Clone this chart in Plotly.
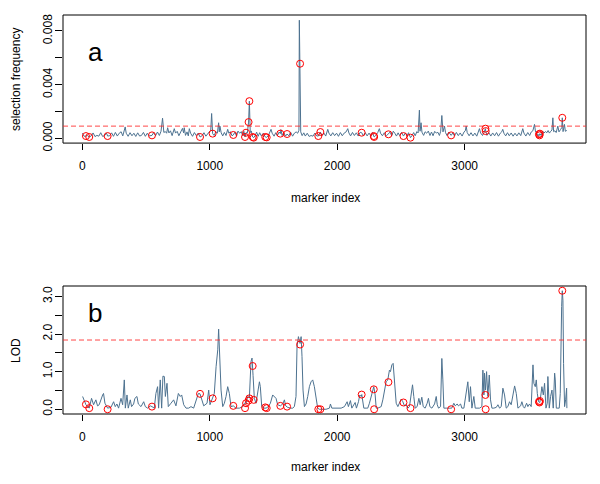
import plotly.graph_objects as go

# ---------------- data ----------------
# panel a: selection frequency (values in units of 1e-4) at marker indices
freq_idx = [1, 15, 29, 40, 55, 70, 85, 100, 115, 130, 145, 160, 175, 190, 199, 215, 230, 245, 260, 275,
            290, 305, 318, 330, 337, 345, 360, 375, 390, 405, 420, 435, 450, 465, 480, 495, 510, 525, 547, 560,
            575, 590, 605, 618, 630, 640, 652, 662, 670, 680, 692, 705, 715, 722, 732, 745, 758, 770, 786, 795,
            800, 810, 822, 832, 840, 850, 865, 880, 895, 910, 924, 940, 955, 970, 985, 1000, 1008, 1015, 1023, 1035,
            1048, 1060, 1070, 1075, 1080, 1090, 1102, 1115, 1128, 1141, 1150, 1162, 1175, 1185, 1198, 1210, 1222, 1235, 1248, 1258,
            1268, 1277, 1285, 1295, 1305, 1311, 1318, 1326, 1337, 1345, 1355, 1368, 1380, 1392, 1405, 1420, 1436, 1447, 1460, 1470,
            1481, 1490, 1505, 1518, 1530, 1545, 1554, 1559, 1568, 1580, 1595, 1607, 1620, 1635, 1650, 1665, 1678, 1690, 1700, 1703,
            1709, 1714, 1725, 1738, 1750, 1765, 1780, 1795, 1810, 1825, 1840, 1852, 1868, 1880, 1895, 1910, 1926, 1935, 1950, 1965,
            1980, 1995, 2010, 2025, 2040, 2055, 2070, 2083, 2092, 2105, 2120, 2135, 2150, 2165, 2180, 2192, 2205, 2220, 2235, 2250,
            2265, 2277, 2287, 2290, 2303, 2318, 2331, 2340, 2355, 2370, 2385, 2402, 2415, 2428, 2440, 2452, 2465, 2478, 2490, 2505,
            2520, 2535, 2548, 2560, 2575, 2588, 2600, 2612, 2625, 2635, 2645, 2650, 2658, 2665, 2678, 2690, 2702, 2715, 2728, 2740,
            2752, 2765, 2778, 2790, 2802, 2812, 2821, 2830, 2842, 2850, 2862, 2875, 2894, 2908, 2920, 2935, 2950, 2965, 2980, 2995,
            3005, 3012, 3020, 3035, 3050, 3065, 3080, 3095, 3108, 3116, 3125, 3140, 3152, 3163, 3165, 3175, 3190, 3205, 3220, 3235,
            3250, 3265, 3280, 3292, 3299, 3308, 3322, 3336, 3350, 3365, 3380, 3395, 3410, 3425, 3440, 3456, 3465, 3480, 3495, 3510,
            3522, 3535, 3548, 3556, 3566, 3575, 3583, 3587, 3590, 3600, 3612, 3622, 3635, 3645, 3655, 3665, 3675, 3685, 3692, 3698,
            3708, 3718, 3731, 3740, 3752, 3762, 3766, 3772, 3783, 3790, 3796, 3800]
freq_e4 = [3.8, 1.5, 1.7, 2.1, 1.0, 1.8, 4.0, 1.3, 2.2, 1.6, 4.2, 1.4, 2.0, 3.9, 1.7, 1.9, 4.1, 1.5, 4.4, 1.7,
           3.8, 4.9, 1.8, 5.5, 8.5, 3.8, 1.5, 4.2, 1.9, 3.8, 1.4, 4.1, 1.7, 2.2, 4.4, 1.5, 3.8, 1.8, 2.2, 4.2,
           1.9, 4.7, 2.1, 5.3, 15.0, 4.4, 5.0, 3.8, 7.9, 4.0, 5.6, 2.0, 5.2, 7.2, 3.9, 5.2, 1.9, 4.6, 7.4, 4.1,
           7.9, 2.2, 4.8, 1.8, 7.2, 3.8, 1.5, 4.3, 2.0, 3.9, 1.0, 1.9, 4.2, 1.6, 3.8, 5.3, 6.0, 18.5, 3.5, 2.1,
           5.0, 3.8, 11.6, 4.8, 9.1, 4.1, 1.8, 4.4, 2.1, 6.7, 3.8, 4.9, 1.9, 2.5, 4.6, 1.7, 5.4, 3.8, 5.0, 2.0,
           5.2, 1.0, 4.2, 3.9, 12.1, 27.7, 4.3, 5.5, 1.0, 0.5, 1.9, 4.6, 1.5, 4.2, 1.8, 3.8, 1.0, 0.7, 2.1, 4.4,
           6.7, 3.8, 1.6, 4.2, 1.9, 4.7, 3.5, 6.5, 2.1, 4.3, 1.7, 3.2, 1.9, 4.5, 1.6, 3.9, 4.8, 3.8, 6.0, 88.0,
           55.6, 4.8, 2.0, 4.1, 1.7, 3.8, 1.4, 2.1, 1.6, 3.9, 1.8, 1.7, 4.7, 1.9, 4.0, 1.7, 6.7, 3.9, 1.8, 4.2,
           2.0, 3.8, 1.5, 4.3, 1.9, 3.9, 4.8, 7.2, 4.0, 1.8, 4.4, 2.1, 4.1, 1.7, 4.5, 4.2, 2.0, 4.2, 1.8, 3.9,
           1.6, 4.4, 1.7, 1.0, 2.2, 4.3, 7.2, 3.8, 1.9, 4.2, 1.8, 3.0, 4.6, 1.9, 5.3, 3.8, 1.7, 4.1, 2.0, 4.4,
           1.7, 3.9, 1.8, 4.2, 0.5, 2.2, 4.3, 1.9, 5.0, 4.0, 21.0, 5.3, 11.6, 4.6, 2.2, 4.9, 3.8, 5.4, 2.1, 4.7,
           1.9, 5.2, 3.9, 4.5, 2.1, 5.3, 17.0, 4.8, 9.1, 4.3, 2.0, 4.6, 2.2, 4.1, 1.8, 4.4, 2.0, 4.0, 1.7, 4.7,
           5.6, 9.1, 4.3, 1.9, 4.2, 1.8, 3.9, 1.6, 4.6, 7.2, 4.0, 2.1, 4.4, 7.2, 5.4, 2.2, 4.2, 1.7, 4.0, 1.9,
           4.3, 1.6, 3.9, 5.0, 6.7, 3.8, 1.8, 4.2, 1.9, 4.0, 1.6, 3.8, 1.8, 4.1, 2.0, 7.2, 3.9, 1.7, 4.3, 2.1,
           4.7, 5.6, 10.4, 4.8, 3.9, 1.7, 3.0, 2.2, 3.5, 2.1, 5.4, 4.0, 5.0, 4.2, 5.8, 3.9, 5.2, 6.2, 15.3, 5.0,
           5.6, 4.3, 9.1, 4.8, 6.5, 8.0, 15.3, 5.0, 10.4, 5.3, 5.4, 6.0]

# panel b: LOD at marker indices
lod_idx = [3, 29, 55, 73, 89, 107, 120, 133, 160, 167, 178, 199, 225, 246, 259, 272, 285, 304, 317, 330,
           338, 351, 361, 377, 387, 403, 413, 429, 440, 461, 482, 495, 513, 534, 547, 565, 578, 591, 599, 612,
           623, 633, 644, 652, 665, 675, 696, 717, 735, 754, 769, 780, 796, 814, 835, 853, 874, 895, 911, 924,
           937, 953, 979, 992, 1002, 1015, 1023, 1036, 1050, 1063, 1070, 1081, 1089, 1102, 1115, 1128, 1141, 1154, 1167, 1185,
           1206, 1233, 1259, 1272, 1285, 1298, 1311, 1324, 1332, 1340, 1350, 1363, 1376, 1390, 1397, 1408, 1424, 1442, 1460, 1476,
           1494, 1507, 1520, 1533, 1554, 1573, 1586, 1596, 1612, 1633, 1651, 1664, 1677, 1685, 1696, 1709, 1717, 1724, 1732, 1743,
           1756, 1769, 1782, 1795, 1808, 1821, 1834, 1847, 1860, 1887, 1913, 1939, 1947, 1958, 1979, 2005, 2031, 2057, 2078, 2088,
           2104, 2115, 2130, 2141, 2151, 2167, 2177, 2188, 2193, 2201, 2209, 2227, 2240, 2253, 2266, 2279, 2287, 2298, 2306, 2319,
           2345, 2358, 2371, 2384, 2397, 2410, 2418, 2429, 2439, 2449, 2463, 2476, 2489, 2502, 2515, 2528, 2541, 2554, 2567, 2580,
           2591, 2601, 2612, 2627, 2641, 2651, 2664, 2675, 2690, 2706, 2716, 2727, 2743, 2764, 2777, 2785, 2795, 2811, 2821, 2829,
           2837, 2855, 2881, 2899, 2915, 2926, 2941, 2952, 2968, 2978, 2994, 3012, 3025, 3036, 3046, 3057, 3072, 3083, 3099, 3117,
           3135, 3143, 3151, 3156, 3164, 3172, 3182, 3193, 3203, 3214, 3229, 3248, 3261, 3274, 3287, 3300, 3313, 3326, 3339, 3352,
           3365, 3379, 3392, 3405, 3418, 3439, 3449, 3460, 3470, 3486, 3496, 3509, 3522, 3536, 3543, 3554, 3562, 3570, 3580, 3590,
           3606, 3617, 3627, 3638, 3648, 3653, 3664, 3674, 3685, 3695, 3706, 3711, 3719, 3732, 3742, 3750, 3756, 3761, 3766, 3771,
           3776, 3784, 3792, 3800, 3802]
lod_val = [0.34, 0.12, 0.03, 0.29, 0.12, 0.25, 0.09, 0.12, 0.38, 0.42, 0.16, 0.03, 0.05, 0.20, 0.07, 0.14, 0.03, 0.29, 0.12, 0.78,
           0.03, 0.38, 0.03, 0.25, 0.07, 0.14, 0.29, 0.34, 0.14, 0.07, 0.20, 0.07, 0.03, 0.09, 0.07, 0.03, 0.42, 0.60, 0.03, 0.78,
           0.03, 0.88, 0.87, 0.34, 0.69, 0.07, 0.16, 0.25, 0.09, 0.42, 0.34, 0.38, 0.12, 0.03, 0.03, 0.07, 0.03, 0.25, 0.42, 0.41,
           0.29, 0.09, 0.16, 0.51, 0.12, 0.25, 0.29, 0.42, 1.13, 1.58, 2.13, 1.40, 0.51, 0.07, 0.16, 0.34, 0.60, 0.42, 0.07, 0.09,
           0.03, 0.03, 0.07, 0.16, 0.16, 0.34, 0.30, 1.27, 1.36, 0.90, 0.29, 0.16, 0.42, 0.73, 0.60, 0.07, 0.03, 0.03, 0.07, 0.16,
           0.38, 0.34, 0.29, 0.12, 0.09, 0.14, 0.25, 0.09, 0.05, 0.03, 0.03, 0.07, 0.34, 1.66, 1.93, 1.75, 1.93, 1.40, 0.51, 0.07,
           0.14, 0.34, 0.60, 0.73, 0.78, 0.60, 0.25, 0.03, 0.00, 0.00, 0.00, 0.03, 0.14, 0.03, 0.03, 0.03, 0.03, 0.07, 0.20, 0.07,
           0.23, 0.03, 0.12, 0.18, 0.03, 0.20, 0.38, 0.34, 0.39, 0.25, 0.03, 0.03, 0.03, 0.16, 0.34, 0.51, 0.60, 0.38, 0.03, 0.03,
           0.07, 0.25, 0.51, 0.73, 0.78, 1.04, 1.00, 1.18, 1.22, 0.78, 0.16, 0.07, 0.16, 0.27, 0.20, 0.09, 0.12, 0.03, 0.07, 0.42,
           0.65, 0.34, 0.03, 0.07, 0.29, 0.12, 0.32, 0.07, 0.03, 0.16, 0.29, 0.07, 0.03, 0.14, 0.34, 0.12, 0.03, 0.07, 1.35, 0.78,
           0.03, 0.03, 0.03, 0.03, 0.16, 0.09, 0.14, 0.09, 0.14, 0.03, 0.03, 0.38, 0.73, 0.20, 0.60, 0.03, 0.34, 0.03, 0.03, 0.03,
           0.07, 1.04, 0.38, 0.96, 0.51, 1.00, 0.34, 0.91, 0.25, 0.03, 0.03, 0.05, 0.12, 0.03, 0.07, 0.56, 0.38, 0.03, 0.07, 0.20,
           0.12, 0.38, 0.62, 0.42, 0.03, 0.09, 0.20, 0.07, 0.03, 0.16, 0.07, 0.14, 0.07, 1.18, 0.69, 0.60, 0.78, 0.42, 0.20, 0.18,
           0.60, 0.38, 0.69, 0.03, 0.16, 0.87, 0.03, 0.34, 0.51, 0.03, 0.96, 0.78, 0.03, 0.03, 0.03, 0.42, 2.11, 2.73, 3.15, 2.90,
           1.22, 0.07, 0.25, 0.56, 0.03]

# selected markers (red circles), same markers in both panels
sel_idx = [29, 55, 199, 547, 924, 1023, 1185, 1277, 1285, 1305, 1311, 1337, 1345, 1436, 1447, 1554, 1607, 1709,
           1852, 1868, 2192, 2287, 2290, 2402, 2520, 2575, 2894, 3163, 3165, 3583, 3587, 3590, 3766]
sel_freq_e4 = [1.7, 1.0, 1.7, 2.2, 1.0, 3.5, 2.5, 1.0, 4.2, 12.1, 27.7, 1.0, 0.5, 1.0, 0.7, 3.5, 3.2, 55.6,
               1.7, 4.7, 4.2, 1.7, 1.0, 3.0, 1.7, 0.5, 2.2, 7.2, 5.4, 3.0, 2.2, 3.5, 15.3]
sel_lod = [0.13, 0.03, 0.00, 0.07, 0.41, 0.29, 0.09, 0.03, 0.16, 0.23, 0.29, 1.15, 0.25, 0.05, 0.03, 0.09, 0.07, 1.72,
           0.00, 0.00, 0.39, 0.53, 0.00, 0.72, 0.18, 0.03, 0.00, 0.38, 0.00, 0.20, 0.18, 0.22, 3.15]

freq_threshold = 0.00091
lod_threshold = 1.84

freq_ticks = [0.0, 0.002, 0.004, 0.006, 0.008]
freq_ticktext = ["0.000", "", "0.004", "", "0.008"]
lod_ticks = [0.0, 0.5, 1.0, 1.5, 2.0, 2.5, 3.0]
lod_ticktext = ["0.0", "", "1.0", "", "2.0", "", "3.0"]
x_ticks = [0, 1000, 2000, 3000]

freq_val = [v * 1e-4 for v in freq_e4]
sel_freq = [v * 1e-4 for v in sel_freq_e4]

# ---------------- figure ----------------
LINE = "#4d7290"
FONT = "Liberation Sans, Arial, Helvetica, sans-serif"

fig = go.Figure()
fig.add_trace(go.Scatter(x=freq_idx, y=freq_val, mode="lines", line=dict(color=LINE, width=1),
                         xaxis="x", yaxis="y", showlegend=False, hoverinfo="skip"))
fig.add_trace(go.Scatter(x=sel_idx, y=sel_freq, mode="markers",
                         marker=dict(symbol="circle-open", size=7, color="red", line=dict(width=1, color="red")),
                         xaxis="x", yaxis="y", showlegend=False))
fig.add_trace(go.Scatter(x=lod_idx, y=lod_val, mode="lines", line=dict(color=LINE, width=1),
                         xaxis="x2", yaxis="y2", showlegend=False, hoverinfo="skip"))
fig.add_trace(go.Scatter(x=sel_idx, y=sel_lod, mode="markers",
                         marker=dict(symbol="circle-open", size=7, color="red", line=dict(width=1, color="red")),
                         xaxis="x2", yaxis="y2", showlegend=False))

xr = [-151, 3952]
common_x = dict(range=xr, showgrid=False, zeroline=False, showline=False, ticks="outside", ticklen=6,
                tickwidth=1, tickcolor="black", tickvals=x_ticks, tickfont=dict(size=12, color="black", family=FONT),
                ticklabelstandoff=6)
common_y = dict(showgrid=False, zeroline=False, showline=False, ticks="outside", ticklen=7, tickwidth=1,
                tickcolor="black", tickangle=-90, tickfont=dict(size=12, color="black", family=FONT),
                ticklabelstandoff=-2)

# page body has an 8px margin: figure is 584x468 so that it fills the 600x484 window
fig.update_layout(
    width=584, height=468,
    margin=dict(l=55, r=6, t=7, b=62),
    paper_bgcolor="white", plot_bgcolor="white",
    font=dict(family=FONT, color="black"),
    xaxis=dict(domain=[0, 1], anchor="y", **common_x),
    yaxis=dict(domain=[0.679, 1.0], anchor="x", range=[-0.000354, 0.00919],
               tickvals=freq_ticks, ticktext=freq_ticktext, **common_y),
    xaxis2=dict(domain=[0, 1], anchor="y2", **common_x),
    yaxis2=dict(domain=[0.0, 0.3208], anchor="x2", range=[-0.126, 3.276],
                tickvals=lod_ticks, ticktext=lod_ticktext, **common_y),
    shapes=[
        dict(type="rect", xref="x domain", yref="y domain", x0=0, x1=1, y0=0, y1=1,
             line=dict(color="black", width=1)),
        dict(type="rect", xref="x2 domain", yref="y2 domain", x0=0, x1=1, y0=0, y1=1,
             line=dict(color="black", width=1)),
        dict(type="line", xref="x domain", yref="y", x0=0, x1=1, y0=freq_threshold, y1=freq_threshold,
             line=dict(color="rgba(255,40,40,0.85)", width=1, dash="5px,3px")),
        dict(type="line", xref="x2 domain", yref="y2", x0=0, x1=1, y0=lod_threshold, y1=lod_threshold,
             line=dict(color="rgba(255,40,40,0.85)", width=1, dash="5px,3px")),
    ],
    annotations=[
        dict(text="a", xref="paper", yref="paper", x=0.0612, y=0.907, showarrow=False,
             font=dict(size=26, color="black", family=FONT), xanchor="center", yanchor="middle"),
        dict(text="b", xref="paper", yref="paper", x=0.0612, y=0.253, showarrow=False,
             font=dict(size=26, color="black", family=FONT), xanchor="center", yanchor="middle"),
        dict(text="selection frequency", xref="paper", yref="paper", x=-0.0899, y=0.8396, showarrow=False,
             textangle=-90, font=dict(size=12, color="black", family=FONT), xanchor="center", yanchor="middle"),
        dict(text="LOD", xref="paper", yref="paper", x=-0.0899, y=0.1604, showarrow=False,
             textangle=-90, font=dict(size=12, color="black", family=FONT), xanchor="center", yanchor="middle"),
        dict(text="marker index", xref="paper", yref="paper", x=0.501, y=0.5414, showarrow=False,
             font=dict(size=12, color="black", family=FONT), xanchor="center", yanchor="middle"),
        dict(text="marker index", xref="paper", yref="paper", x=0.501, y=-0.1328, showarrow=False,
             font=dict(size=12, color="black", family=FONT), xanchor="center", yanchor="middle"),
    ],
)

fig.write_html("out.html")
